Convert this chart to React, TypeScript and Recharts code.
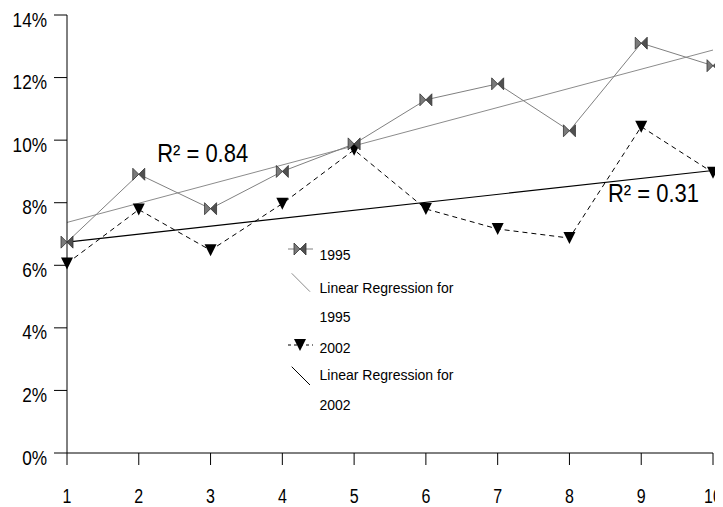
import React from "react";
import {
  Legend,
  Line,
  LineChart,
  ReferenceDot,
  XAxis,
  YAxis
} from "recharts";

const periods = [1, 2, 3, 4, 5, 6, 7, 8, 9, 10];
const rate1995 = [6.74, 8.91, 7.81, 9.0, 9.88, 11.29, 11.8, 10.3, 13.1, 12.38];
const rate2002 = [6.06, 7.78, 6.48, 7.97, 9.69, 7.8, 7.16, 6.87, 10.43, 8.96];
// regression end points, at periods 1 and 10
const fit1995 = [7.37, 12.88];
const fit2002 = [6.74, 9.03];
const yTicks = [0, 2, 4, 6, 8, 10, 12, 14];
const r2Notes = [
  { x: 2.89, y: 9.56, text: "R² = 0.84" },
  { x: 9.17, y: 8.28, text: "R² = 0.31" }
];

const data = periods.map((p, i) => ({
  period: p,
  r1995: rate1995[i],
  r2002: rate2002[i],
  fit1995: i === 0 ? fit1995[0] : i === periods.length - 1 ? fit1995[1] : null,
  fit2002: i === 0 ? fit2002[0] : i === periods.length - 1 ? fit2002[1] : null
}));

const font = "'Liberation Sans', Arial, sans-serif";

// the original lettering is a narrow face; squeeze a regular one to match
function NarrowText({
  x,
  y,
  size,
  squeeze,
  anchor,
  children
}: {
  x: number;
  y: number;
  size: number;
  squeeze: number;
  anchor: "start" | "middle" | "end";
  children: React.ReactNode;
}) {
  return (
    <text
      transform={`translate(${x},${y}) scale(${squeeze},1)`}
      textAnchor={anchor}
      dominantBaseline="central"
      fontFamily={font}
      fontSize={size}
      fill="#000"
    >
      {children}
    </text>
  );
}

const YTick = (p: any) => (
  <NarrowText x={p.x} y={p.y + 4.5} size={21} squeeze={0.82} anchor="end">
    {`${p.payload.value}%`}
  </NarrowText>
);

const XTick = (p: any) => (
  <NarrowText x={p.x} y={p.y + 6} size={20} squeeze={0.8} anchor="middle">
    {p.payload.value}
  </NarrowText>
);

function Bowtie({ cx, cy, s = 6 }: { cx: number; cy: number; s?: number }) {
  return (
    <g>
      <polygon
        points={`${cx - s},${cy - s} ${cx - s},${cy + s} ${cx},${cy}`}
        fill="#7a7a7a"
        stroke="#333"
        strokeWidth={0.8}
      />
      <polygon
        points={`${cx + s},${cy - s} ${cx + s},${cy + s} ${cx},${cy}`}
        fill="#505050"
        stroke="#333"
        strokeWidth={0.8}
      />
    </g>
  );
}

function DownTriangle({ cx, cy, s = 6 }: { cx: number; cy: number; s?: number }) {
  return (
    <polygon
      points={`${cx - s},${cy - s} ${cx + s},${cy - s} ${cx},${cy + s}`}
      fill="#000"
    />
  );
}

function ChartLegend() {
  const t = { fontFamily: font, fontSize: 14, fill: "#000" };
  return (
    <svg width={200} height={185}>
      <line x1={8} y1={14} x2={33} y2={14} stroke="#808080" />
      <Bowtie cx={20} cy={14} />
      <text x={39.5} y={20} dy="0.35em" {...t}>1995</text>

      <line x1={11.7} y1={38.3} x2={30} y2={56.7} stroke="#8c8c8c" />
      <text x={39.5} y={53} dy="0.35em" {...t}>Linear Regression for</text>
      <text x={39.5} y={82} dy="0.35em" {...t}>1995</text>

      <line x1={8} y1={110} x2={33} y2={110} stroke="#000" strokeDasharray="3 3" />
      <DownTriangle cx={20} cy={110} />
      <text x={39.5} y={113} dy="0.35em" {...t}>2002</text>

      <line x1={11.7} y1={131.7} x2={30} y2={150} stroke="#000" />
      <text x={39.5} y={140} dy="0.35em" {...t}>Linear Regression for</text>
      <text x={39.5} y={170} dy="0.35em" {...t}>2002</text>
    </svg>
  );
}

export default function App() {
  return (
    <LineChart
      width={715}
      height={499}
      data={data}
      margin={{ top: 7, right: 10, bottom: 0, left: 0 }}
    >
      <XAxis
        dataKey="period"
        type="number"
        domain={[1, 10]}
        ticks={periods}
        interval={0}
        height={54}
        tickSize={12}
        tickMargin={25}
        stroke="#000"
        tick={XTick}
      />
      <YAxis
        domain={[0, 14]}
        ticks={yTicks}
        interval={0}
        width={59}
        tickSize={13}
        tickMargin={7}
        stroke="#000"
        tick={YTick}
      />
      <Legend
        layout="horizontal"
        verticalAlign="middle"
        align="center"
        wrapperStyle={{ left: 272, top: 227, width: 200 }}
        content={() => <ChartLegend />}
      />
      <Line
        dataKey="fit2002"
        name="Linear Regression for 2002"
        stroke="#000"
        strokeWidth={1.2}
        dot={false}
        activeDot={false}
        connectNulls
        isAnimationActive={false}
      />
      <Line
        dataKey="fit1995"
        name="Linear Regression for 1995"
        stroke="#8c8c8c"
        strokeWidth={1}
        dot={false}
        activeDot={false}
        connectNulls
        isAnimationActive={false}
      />
      <Line
        dataKey="r2002"
        name="2002"
        stroke="#000"
        strokeWidth={1}
        strokeDasharray="5 4"
        dot={(p: any) => <DownTriangle key={`t${p.index}`} cx={p.cx} cy={p.cy} />}
        activeDot={false}
        isAnimationActive={false}
      />
      <Line
        dataKey="r1995"
        name="1995"
        stroke="#808080"
        strokeWidth={1}
        dot={(p: any) => <Bowtie key={`b${p.index}`} cx={p.cx} cy={p.cy} />}
        activeDot={false}
        isAnimationActive={false}
      />
      {r2Notes.map((n) => (
        <ReferenceDot
          key={n.text}
          x={n.x}
          y={n.y}
          r={0}
          fill="none"
          stroke="none"
          label={{
            content: (lp: any) => (
              <NarrowText
                x={lp.viewBox.x + (lp.viewBox.width || 0) / 2}
                y={lp.viewBox.y + (lp.viewBox.height || 0) / 2}
                size={25}
                squeeze={0.88}
                anchor="middle"
              >
                {n.text}
              </NarrowText>
            )
          }}
        />
      ))}
    </LineChart>
  );
}
